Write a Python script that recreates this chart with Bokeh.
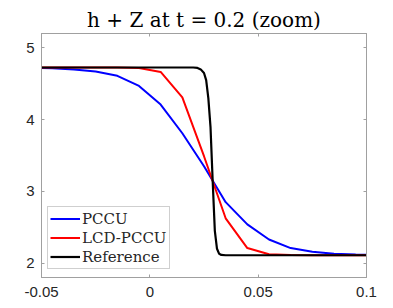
from bokeh.plotting import figure
from bokeh.models import FixedTicker, LinearAxis, Range1d, Legend, LegendItem
from bokeh.embed import file_html
from bokeh.resources import INLINE

# ---- data ----
x_cells = [-0.055, -0.045, -0.035, -0.025, -0.015, -0.005, 0.005, 0.015, 0.025,
           0.035, 0.045, 0.055, 0.065, 0.075, 0.085, 0.095, 0.105]
pccu = [4.722, 4.716, 4.70, 4.67, 4.61, 4.47, 4.21, 3.81, 3.35,
        2.85, 2.54, 2.33, 2.21, 2.16, 2.13, 2.12, 2.115]
lcd_pccu = [4.726, 4.726, 4.726, 4.726, 4.725, 4.72, 4.665, 4.31, 3.49,
            2.625, 2.21, 2.125, 2.112, 2.11, 2.11, 2.11, 2.11]
x_ref = [-0.055, 0.020, 0.022, 0.0235, 0.025, 0.026, 0.027, 0.028, 0.029,
         0.030, 0.031, 0.032, 0.033, 0.035, 0.105]
h_ref = [4.726, 4.726, 4.72, 4.70, 4.65, 4.55, 4.30, 3.90, 3.15,
         2.45, 2.20, 2.13, 2.115, 2.11, 2.11]

x_ticks = [-0.05, 0, 0.05, 0.1]
x_tick_labels = ["-0.05", "0", "0.05", "0.1"]
y_ticks = [2, 3, 4, 5]
y_tick_labels = ["2", "3", "4", "5"]

AX = "#a0a0a0"
TXT = "#262626"

p = figure(width=393, height=306, output_backend="svg", toolbar_location=None,
           x_range=Range1d(-0.05, 0.1), y_range=Range1d(1.8, 5.2),
           min_border_left=41, min_border_right=27, min_border_top=33,
           min_border_bottom=29)
p.title.text = "h + Z at t = 0.2 (zoom)"
p.title.text_font = "DejaVu Serif"
p.title.text_font_size = "20px"
p.title.text_font_style = "normal"
p.title.align = "center"
p.title.text_color = "black"
p.title.offset = 0
p.title.standoff = 4

p.xgrid.visible = False
p.ygrid.visible = False
p.outline_line_color = AX
p.outline_line_width = 1

def style(ax):
    ax.axis_line_color = AX
    ax.major_tick_line_color = AX
    ax.minor_tick_line_color = AX
    ax.major_tick_in = 3
    ax.major_tick_out = 0
    ax.minor_tick_in = 3
    ax.minor_tick_out = 0
    ax.major_label_text_font = "Liberation Sans"
    ax.major_label_text_font_size = "15px"
    ax.major_label_text_color = TXT

p.xaxis.ticker = FixedTicker(ticks=x_ticks)
p.xaxis.major_label_overrides = dict(zip(x_ticks, x_tick_labels))
p.yaxis.ticker = FixedTicker(ticks=y_ticks)
p.yaxis.major_label_overrides = dict(zip(y_ticks, y_tick_labels))
style(p.xaxis[0])
style(p.yaxis[0])
p.xaxis.major_label_standoff = 9
p.yaxis.major_label_standoff = 7

# mirrored tick marks (no labels): use minor ticks only
top = LinearAxis(ticker=FixedTicker(ticks=[], minor_ticks=x_ticks))
style(top)
p.add_layout(top, "above")
right = LinearAxis(ticker=FixedTicker(ticks=[], minor_ticks=y_ticks))
style(right)
p.add_layout(right, "right")

r1 = p.line(x_cells, pccu, line_color="#0000ff", line_width=2)
r2 = p.line(x_cells, lcd_pccu, line_color="#ff0000", line_width=2)
r3 = p.line(x_ref, h_ref, line_color="black", line_width=2.2)

legend = Legend(items=[LegendItem(label="PCCU", renderers=[r1]),
                       LegendItem(label="LCD-PCCU", renderers=[r2]),
                       LegendItem(label="Reference", renderers=[r3])],
                location=(6, 8))
legend.label_text_font = "DejaVu Serif"
legend.label_text_font_size = "15px"
legend.label_text_color = TXT
legend.label_height = 19
legend.glyph_height = 19
legend.glyph_width = 30
legend.label_standoff = 2
legend.spacing = 0
legend.padding = 2
legend.margin = 0
legend.border_line_color = AX
legend.background_fill_color = "white"
legend.background_fill_alpha = 1
p.add_layout(legend, "center")

open("out.html", "w").write(file_html(p, INLINE))
